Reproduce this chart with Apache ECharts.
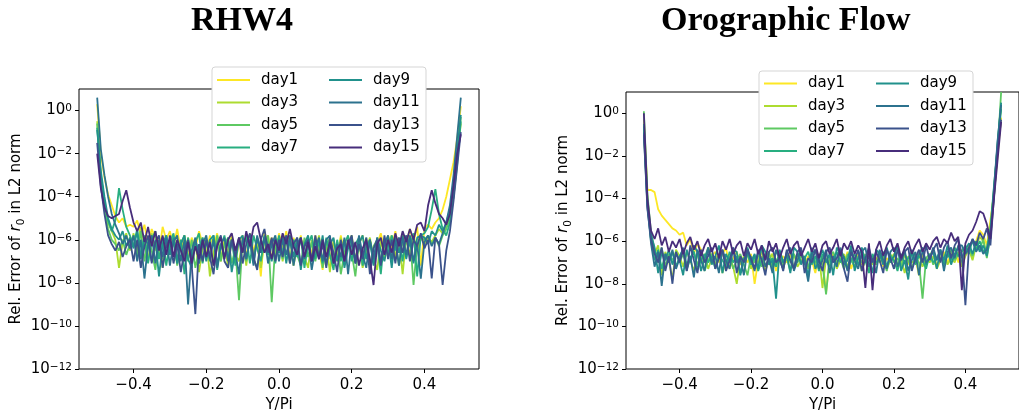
<!DOCTYPE html>
<html>
<head>
<meta charset="utf-8">
<script src="https://cdn.jsdelivr.net/npm/echarts@6.0.0/dist/echarts.min.js"></script>
<style>
  html, body { margin: 0; padding: 0; background: #fff; }
  #chart { width: 1019px; height: 418px; }
</style>
</head>
<body>
<div id="chart"></div>
<script>
// latitude grid (Y/Pi)
var yPi = [
  -0.50, -0.49, -0.48, -0.47, -0.46, -0.45, -0.44, -0.43, -0.42, -0.41,
  -0.40, -0.39, -0.38, -0.37, -0.36, -0.35, -0.34, -0.33, -0.32, -0.31,
  -0.30, -0.29, -0.28, -0.27, -0.26, -0.25, -0.24, -0.23, -0.22, -0.21,
  -0.20, -0.19, -0.18, -0.17, -0.16, -0.15, -0.14, -0.13, -0.12, -0.11,
  -0.10, -0.09, -0.08, -0.07, -0.06, -0.05, -0.04, -0.03, -0.02, -0.01,
  0.00, 0.01, 0.02, 0.03, 0.04, 0.05, 0.06, 0.07, 0.08, 0.09,
  0.10, 0.11, 0.12, 0.13, 0.14, 0.15, 0.16, 0.17, 0.18, 0.19,
  0.20, 0.21, 0.22, 0.23, 0.24, 0.25, 0.26, 0.27, 0.28, 0.29,
  0.30, 0.31, 0.32, 0.33, 0.34, 0.35, 0.36, 0.37, 0.38, 0.39,
  0.40, 0.41, 0.42, 0.43, 0.44, 0.45, 0.46, 0.47, 0.48, 0.49,
  0.50
];

var days = ["day1", "day3", "day5", "day7", "day9", "day11", "day13", "day15"];
var colors = ["#fde725", "#addc30", "#5ec962", "#28ae80", "#21918c", "#2c728e", "#3b528b", "#472d7b"];

var yTicks = [1e-12, 1e-10, 1e-8, 1e-6, 1e-4, 1e-2, 1];
var xTicks = [-0.4, -0.2, 0, 0.2, 0.4];

// log10 of the relative error
// RHW4
var rhwDay1 = [
  0.3, -2.0, -3.1, -3.9, -4.4, -4.9, -5.2, -5.0, -5.4, -5.3,
  -5.4, -5.1, -5.8, -5.3, -6.2, -5.5, -5.9, -6.6, -5.4, -6.0,
  -5.6, -6.3, -5.5, -6.5, -5.8, -6.8, -5.9, -6.4, -5.6, -6.2,
  -6.7, -5.8, -6.3, -5.7, -7.0, -6.0, -6.6, -5.8, -7.1, -6.1,
  -5.8, -6.8, -5.7, -6.5, -6.0, -7.7, -5.6, -6.3, -5.9, -6.7,
  -5.7, -6.4, -5.6, -6.9, -5.9, -6.6, -5.8, -7.0, -6.0, -6.7,
  -5.8, -6.5, -7.4, -6.0, -6.9, -6.1, -7.0, -5.8, -6.7, -6.3,
  -6.0, -6.9, -6.2, -5.8, -6.8, -6.0, -7.0, -6.2, -5.7, -6.5,
  -5.8, -6.4, -5.6, -6.6, -5.7, -6.2, -5.5, -6.1, -5.4, -7.2,
  -5.5, -5.3, -5.5, -5.2, -5.0, -4.6, -4.0, -3.2, -2.4, -1.3,
  0.2
];
var rhwDay3 = [
  -0.5, -3.0, -4.3, -5.2, -5.6, -6.0, -7.3, -6.1, -5.7, -6.5,
  -5.7, -6.6, -5.4, -6.2, -7.0, -5.7, -6.5, -5.9, -7.3, -6.0,
  -6.6, -5.8, -7.1, -6.0, -6.8, -5.9, -7.0, -6.1, -7.5, -6.4,
  -5.9, -7.7, -6.6, -5.8, -6.9, -6.1, -7.3, -5.9, -6.7, -7.0,
  -6.0, -7.2, -5.8, -6.7, -5.9, -7.3, -6.0, -5.8, -6.9, -6.2,
  -5.9, -7.0, -6.1, -5.8, -7.2, -6.3, -5.9, -6.8, -7.3, -6.0,
  -6.6, -5.8, -7.0, -6.2, -7.5, -6.0, -6.9, -5.9, -7.1, -6.2,
  -5.8, -7.0, -6.1, -7.3, -6.5, -5.9, -6.9, -7.4, -6.0, -6.9,
  -6.2, -5.8, -6.8, -6.0, -7.6, -5.9, -6.7, -5.8, -6.5, -5.9,
  -6.2, -5.9, -6.1, -5.8, -5.5, -5.7, -5.4, -4.8, -3.6, -2.2,
  -0.6
];
var rhwDay5 = [
  -0.6, -3.3, -4.6, -5.5, -6.0, -6.2, -6.5, -6.0, -6.7, -6.2,
  -5.8, -6.7, -5.6, -7.0, -5.9, -6.5, -7.4, -6.0, -6.9, -5.8,
  -6.7, -5.9, -7.2, -6.2, -5.8, -7.0, -6.0, -7.3, -6.5, -5.9,
  -6.8, -6.0, -7.2, -5.8, -7.0, -6.2, -5.9, -7.1, -6.4, -8.8,
  -6.0, -7.0, -5.8, -6.9, -7.3, -6.0, -6.6, -5.8, -8.9, -6.2,
  -5.9, -6.9, -5.8, -7.1, -6.0, -6.7, -7.2, -5.9, -6.8, -6.1,
  -7.0, -6.0, -7.3, -6.3, -5.9, -7.1, -6.1, -7.6, -6.6, -6.0,
  -6.6, -7.7, -6.1, -7.0, -5.9, -7.2, -6.3, -6.0, -7.1, -6.2,
  -5.9, -7.0, -6.1, -7.2, -6.0, -6.8, -5.8, -8.1, -6.2, -5.9,
  -6.0, -5.8, -6.2, -5.9, -6.3, -5.8, -5.5, -5.0, -4.0, -2.5,
  -0.3
];
var rhwDay7 = [
  -0.8, -3.0, -4.3, -5.1, -5.6, -5.1, -3.6, -4.6, -5.4, -5.8,
  -6.3, -5.5, -6.8, -5.8, -7.1, -6.0, -5.6, -6.9, -5.9, -7.2,
  -6.1, -5.7, -7.0, -6.0, -7.6, -5.9, -6.9, -6.1, -5.7, -7.1,
  -6.0, -7.0, -5.8, -7.4, -6.3, -5.8, -6.9, -6.0, -7.2, -5.9,
  -6.6, -5.8, -7.1, -5.8, -6.4, -7.0, -5.9, -6.7, -6.0, -7.1,
  -5.8, -6.6, -5.9, -7.0, -6.0, -6.8, -5.9, -7.3, -6.2, -5.8,
  -6.9, -6.0, -7.1, -5.9, -6.7, -7.4, -6.0, -7.0, -6.2, -5.8,
  -7.0, -6.2, -5.9, -7.2, -6.4, -6.0, -7.1, -6.2, -7.6, -5.9,
  -6.7, -5.8, -6.5, -5.9, -7.0, -5.8, -6.3, -5.7, -7.7, -5.8,
  -5.7, -5.4, -4.6, -3.65, -4.8, -5.5, -5.8, -5.2, -4.0, -2.3,
  -0.5
];
var rhwDay9 = [
  -0.9, -2.8, -4.0, -5.0, -5.5, -5.8, -6.0, -5.6, -6.3, -5.9,
  -6.4, -5.6, -6.9, -5.9, -6.2, -7.0, -6.0, -7.7, -6.2, -5.8,
  -6.7, -5.9, -7.1, -6.2, -5.8, -6.9, -7.3, -6.0, -6.6, -5.9,
  -7.0, -6.0, -5.8, -7.2, -6.2, -6.8, -5.9, -7.5, -6.5, -6.0,
  -5.8, -6.9, -6.0, -7.1, -5.9, -6.6, -5.8, -6.3, -7.0, -5.9,
  -6.6, -5.8, -7.1, -6.0, -6.8, -5.9, -7.4, -6.2, -5.8, -7.0,
  -6.0, -6.8, -5.8, -7.2, -6.2, -5.9, -7.0, -6.1, -7.3, -6.4,
  -5.9, -7.1, -6.2, -5.8, -6.9, -6.0, -7.2, -5.9, -6.5, -7.0,
  -6.0, -7.3, -5.9, -6.6, -5.8, -6.9, -6.0, -7.1, -5.9, -5.8,
  -5.9, -6.2, -5.6, -5.8, -5.3, -5.6, -5.2, -4.6, -3.4, -1.9,
  -0.2
];
var rhwDay11 = [
  0.6, -1.8, -3.0, -4.0, -4.8, -5.3, -5.7, -6.2, -5.8, -6.4,
  -5.8, -7.0, -6.0, -7.8, -6.2, -5.8, -7.1, -6.0, -6.8, -5.9,
  -7.2, -6.1, -5.8, -7.0, -6.0, -9.0, -6.5, -5.9, -7.1, -6.2,
  -5.8, -6.9, -6.0, -7.3, -6.2, -5.9, -7.0, -6.0, -6.6, -7.6,
  -5.9, -6.9, -6.0, -7.2, -5.8, -6.6, -5.9, -7.1, -6.2, -5.8,
  -7.0, -6.0, -6.7, -5.8, -7.2, -6.2, -5.9, -6.9, -6.0, -7.4,
  -6.4, -5.9, -7.0, -6.0, -5.8, -7.1, -6.2, -6.8, -5.9, -7.6,
  -6.0, -7.0, -5.8, -6.7, -7.3, -6.0, -6.9, -5.9, -7.1, -6.2,
  -5.8, -6.9, -6.0, -7.2, -5.9, -6.7, -5.8, -7.0, -6.2, -7.8,
  -6.1, -5.8, -6.3, -5.9, -6.2, -5.7, -5.2, -4.4, -3.0, -1.2,
  0.6
];
var rhwDay13 = [
  -1.5, -3.5, -4.8, -5.8, -6.2, -6.5, -6.1, -6.8, -6.3, -6.0,
  -7.0, -6.0, -7.3, -6.3, -5.8, -7.1, -6.1, -5.8, -7.3, -6.3,
  -6.0, -7.1, -6.2, -7.5, -6.5, -6.0, -7.2, -9.45, -6.2, -7.0,
  -6.0, -6.8, -7.6, -6.2, -5.8, -7.0, -7.3, -6.0, -6.8, -5.9,
  -7.1, -6.2, -5.7, -6.8, -7.4, -6.0, -5.5, -6.6, -5.9, -7.0,
  -6.0, -6.8, -5.8, -7.1, -6.2, -5.9, -7.2, -6.3, -6.0, -7.0,
  -5.8, -6.9, -6.2, -7.3, -5.9, -6.6, -7.5, -6.0, -7.0, -6.2,
  -5.8, -7.1, -6.2, -6.9, -5.9, -7.6, -6.4, -6.0, -7.2, -5.8,
  -6.9, -6.0, -7.1, -5.9, -6.6, -5.8, -7.0, -6.0, -6.3, -5.7,
  -6.4, -6.0, -7.8, -5.9, -6.2, -8.1, -6.5, -5.6, -4.2, -2.6,
  -1.0
];
var rhwDay15 = [
  -2.0, -3.6, -4.5, -4.9, -5.0, -4.9, -4.8, -4.2, -3.7, -4.5,
  -5.2, -5.6, -5.2, -6.1, -5.4, -6.3, -5.6, -6.5, -5.8, -6.7,
  -5.8, -6.8, -6.0, -6.5, -7.0, -6.1, -7.1, -6.3, -6.9, -6.0,
  -6.8, -6.1, -7.2, -6.3, -5.9, -6.9, -6.0, -5.7, -6.5, -5.9,
  -6.6, -5.6, -6.3, -5.4, -5.2, -6.0, -6.6, -6.2, -6.9, -6.0,
  -6.5, -5.7, -6.2, -5.5, -6.3, -6.7, -5.9, -6.8, -6.1, -7.0,
  -6.3, -6.9, -6.0, -6.8, -6.1, -7.1, -6.4, -6.2, -7.0, -6.0,
  -6.7, -6.1, -7.2, -6.4, -6.0, -6.9, -8.1, -6.2, -5.9, -6.7,
  -6.0, -6.6, -5.7, -6.3, -5.6, -6.1, -5.5, -6.0, -5.3, -5.2,
  -5.6, -4.4, -3.7, -4.3, -4.8, -5.0, -5.3, -4.8, -3.5, -2.0,
  -1.1
];

// Orographic Flow
var oroDay1 = [
  -0.3, -3.6, -3.6, -3.7, -4.5, -4.8, -5.0, -5.2, -5.4, -5.5,
  -5.7, -5.6, -6.2, -5.9, -6.6, -6.1, -6.4, -6.9, -6.3, -6.7,
  -6.5, -7.0, -6.6, -6.3, -7.3, -6.8, -6.5, -7.1, -6.7, -7.0,
  -6.6, -8.0, -6.9, -6.5, -7.2, -6.8, -6.6, -7.4, -6.9, -6.7,
  -7.0, -6.6, -7.3, -6.8, -6.5, -7.1, -6.7, -6.9, -7.5, -6.6,
  -6.8, -8.4, -6.9, -6.6, -7.2, -6.7, -7.0, -6.5, -7.3, -6.8,
  -6.6, -7.1, -6.8, -7.4, -6.7, -6.9, -6.5, -7.2, -6.8, -7.0,
  -6.6, -7.3, -6.9, -6.7, -7.1, -6.5, -6.8, -7.6, -6.6, -7.0,
  -6.7, -6.4, -7.2, -6.8, -6.5, -7.0, -6.6, -6.3, -7.0, -6.4,
  -6.6, -6.2, -6.8, -6.0, -5.5, -5.7, -6.2, -5.0, -3.8, -2.0,
  -0.2
];
var oroDay3 = [
  -0.8, -4.0, -5.8, -6.6, -6.2, -7.6, -6.5, -6.9, -7.8, -6.4,
  -6.7, -7.2, -6.5, -6.9, -7.4, -6.6, -7.0, -6.7, -7.3, -6.8,
  -7.1, -6.6, -7.5, -6.9, -6.7, -7.2, -8.0, -6.8, -7.0, -6.6,
  -7.3, -6.8, -7.0, -6.7, -7.4, -6.9, -6.6, -7.1, -6.8, -7.3,
  -6.7, -7.0, -6.6, -7.2, -6.9, -6.7, -7.3, -6.8, -7.1, -6.6,
  -8.2, -6.8, -7.0, -6.7, -7.3, -6.9, -6.6, -7.2, -6.8, -7.0,
  -6.7, -7.4, -6.9, -6.6, -7.1, -6.8, -7.0, -6.7, -7.3, -6.9,
  -6.6, -7.1, -6.8, -7.5, -6.7, -7.0, -6.9, -6.6, -7.2, -6.8,
  -7.0, -6.7, -7.3, -6.9, -6.6, -7.1, -6.8, -7.0, -6.5, -7.2,
  -6.7, -6.4, -6.9, -6.2, -5.8, -6.0, -6.6, -5.3, -3.6, -1.5,
  0.4
];
var oroDay5 = [
  0.1, -3.8, -5.6, -6.4, -7.0, -6.3, -7.2, -6.6, -6.9, -6.5,
  -7.0, -6.6, -7.3, -6.8, -6.5, -7.1, -6.7, -7.4, -6.9, -6.6,
  -7.2, -6.8, -6.5, -7.0, -6.7, -7.3, -6.9, -6.6, -7.1, -7.6,
  -6.7, -7.0, -6.6, -7.2, -6.8, -6.5, -7.3, -6.9, -6.7, -7.1,
  -6.8, -7.4, -6.6, -7.0, -6.7, -6.9, -7.2, -6.6, -7.0, -6.8,
  -7.1, -8.5, -6.7, -6.5, -7.0, -6.8, -7.3, -6.6, -6.9, -7.2,
  -6.7, -7.0, -6.6, -7.3, -6.8, -7.1, -6.7, -6.9, -7.4, -6.6,
  -7.0, -6.8, -7.2, -6.6, -6.9, -7.3, -6.7, -7.0, -8.7, -6.8,
  -6.6, -7.1, -6.8, -6.5, -7.0, -6.7, -6.4, -6.9, -6.6, -7.0,
  -6.5, -6.3, -6.7, -6.1, -6.4, -5.9, -6.8, -5.6, -3.9, -1.8,
  1.0
];
var oroDay7 = [
  -0.5, -4.2, -6.0, -6.9, -6.4, -7.3, -6.6, -7.0, -6.5, -7.2,
  -6.7, -6.4, -7.1, -6.8, -6.5, -7.3, -6.9, -6.6, -7.0, -6.7,
  -7.3, -6.6, -6.9, -7.2, -6.5, -7.0, -6.7, -7.5, -6.8, -6.6,
  -7.1, -6.7, -7.4, -6.9, -6.6, -7.0, -6.8, -7.2, -6.5, -7.0,
  -6.7, -6.9, -7.3, -6.6, -7.0, -6.8, -6.5, -7.1, -6.7, -7.4,
  -6.6, -6.9, -7.2, -6.8, -6.5, -7.0, -6.7, -7.3, -6.9, -6.6,
  -7.1, -6.7, -6.9, -7.5, -6.6, -7.0, -6.8, -6.5, -7.2, -6.7,
  -6.9, -7.4, -6.6, -7.0, -6.8, -6.5, -7.1, -6.7, -6.9, -7.3,
  -6.6, -7.0, -6.8, -6.4, -7.1, -6.6, -6.9, -6.3, -6.7, -6.5,
  -6.2, -6.6, -5.9, -6.4, -6.0, -6.5, -6.3, -5.4, -3.4, -1.6,
  0.2
];
var oroDay9 = [
  -0.6, -4.3, -5.7, -6.3, -7.5, -6.5, -6.9, -6.4, -7.1, -6.6,
  -6.9, -7.6, -6.4, -7.0, -6.2, -6.5, -7.4, -6.8, -6.3, -7.1,
  -6.7, -6.2, -7.5, -6.6, -7.0, -6.4, -6.5, -7.6, -6.9, -6.3,
  -7.0, -6.6, -7.3, -6.2, -6.5, -7.1, -6.9, -8.7, -6.4, -7.0,
  -6.6, -7.5, -6.3, -6.5, -7.1, -6.7, -7.7, -6.3, -7.3, -6.9,
  -6.4, -7.0, -6.6, -7.6, -6.3, -6.6, -7.1, -6.9, -6.2, -7.4,
  -6.8, -6.3, -7.0, -6.7, -7.5, -6.4, -6.6, -7.1, -6.3, -7.0,
  -6.7, -6.2, -7.4, -6.9, -7.8, -6.4, -7.0, -6.6, -6.3, -7.1,
  -6.7, -6.5, -7.3, -6.4, -6.9, -6.2, -7.1, -6.6, -6.3, -6.8,
  -6.4, -6.1, -6.6, -6.0, -6.5, -6.2, -6.7, -5.8, -3.7, -1.4,
  0.5
];
var oroDay11 = [
  -0.9, -4.4, -6.1, -7.2, -6.5, -8.1, -6.6, -7.0, -6.4, -7.3,
  -6.8, -6.3, -7.4, -6.7, -7.7, -6.4, -6.9, -7.4, -6.3, -7.0,
  -6.7, -7.5, -6.4, -6.9, -7.3, -6.3, -7.0, -6.8, -7.6, -6.4,
  -6.9, -7.4, -6.5, -6.3, -7.2, -6.8, -7.5, -6.4, -6.9, -7.3,
  -6.5, -6.3, -7.4, -6.9, -6.4, -7.0, -7.9, -6.6, -6.4, -7.3,
  -6.9, -6.4, -7.5, -6.7, -7.2, -6.3, -6.8, -7.4, -6.4, -6.9,
  -7.3, -6.5, -6.3, -7.2, -6.8, -7.5, -6.4, -6.9, -7.3, -6.5,
  -6.3, -7.2, -6.8, -6.4, -7.4, -6.9, -6.5, -7.6, -6.4, -7.0,
  -6.8, -6.3, -6.9, -6.4, -7.4, -6.5, -6.3, -6.8, -6.2, -6.2,
  -6.6, -6.3, -6.0, -6.5, -6.2, -6.6, -6.4, -5.7, -3.5, -1.3,
  0.4
];
var oroDay13 = [
  -1.0, -4.5, -5.9, -6.6, -7.0, -6.3, -7.4, -6.7, -8.0, -6.5,
  -7.0, -6.4, -7.4, -6.2, -6.9, -7.5, -6.4, -7.0, -6.7, -6.3,
  -7.3, -6.8, -6.4, -7.4, -6.9, -6.3, -7.5, -6.7, -7.0, -6.4,
  -6.8, -7.3, -6.4, -6.9, -7.6, -6.5, -6.3, -7.0, -6.8, -7.4,
  -6.4, -6.9, -7.3, -6.5, -6.3, -7.5, -6.8, -7.0, -6.4, -6.9,
  -7.4, -6.5, -6.3, -7.0, -6.8, -6.4, -7.3, -7.9, -6.5, -6.9,
  -6.4, -7.4, -6.8, -6.3, -7.0, -6.5, -6.9, -7.5, -6.4, -6.8,
  -7.3, -6.4, -6.9, -6.5, -6.3, -7.4, -6.8, -6.4, -7.0, -6.2,
  -6.9, -6.4, -6.1, -7.0, -6.3, -6.0, -6.8, -6.2, -5.9, -6.6,
  -9.0, -6.3, -5.9, -6.2, -5.6, -5.9, -5.4, -6.2, -3.9, -1.7,
  -0.3
];
var oroDay15 = [
  0.0, -4.0, -5.5, -5.9, -5.4, -6.2, -5.8, -6.5, -6.0, -6.3,
  -5.9, -6.6, -6.1, -5.8, -6.4, -6.0, -6.7, -6.2, -5.9, -6.5,
  -6.1, -6.8, -6.0, -6.4, -5.9, -6.6, -6.2, -6.0, -6.7, -6.1,
  -6.4, -5.9, -6.6, -6.2, -6.9, -6.0, -6.5, -6.1, -6.8, -6.3,
  -5.9, -6.6, -6.2, -6.0, -6.7, -6.3, -5.9, -6.5, -6.1, -6.8,
  -6.2, -6.0, -6.6, -6.3, -5.9, -6.7, -6.1, -6.4, -6.0, -6.6,
  -6.2, -6.5, -8.2, -6.1, -8.3, -6.4, -6.0, -6.7, -6.2, -5.9,
  -6.5, -6.1, -6.8, -6.3, -6.0, -6.6, -6.2, -5.9, -6.5, -6.1,
  -6.4, -6.0, -5.8, -6.3, -5.9, -6.1, -5.6, -6.0, -5.8, -8.3,
  -6.1, -5.7, -5.5, -5.1, -4.6, -4.7, -5.2, -5.9, -4.0, -2.2,
  -0.4
];

var rhwSeries = [rhwDay1, rhwDay3, rhwDay5, rhwDay7, rhwDay9, rhwDay11, rhwDay13, rhwDay15];
var oroSeries = [oroDay1, oroDay3, oroDay5, oroDay7, oroDay9, oroDay11, oroDay13, oroDay15];

var FONT = "DejaVu Sans";

function yLabel(v) {
    var e = Math.round(Math.log(v) / Math.LN10);
    return "{b|10}{s|" + (e < 0 ? "\u2212" + (-e) : e) + "}";
}

function xLabel(v) {
    var s = Math.abs(v).toFixed(1);
    return v < -1e-9 ? "\u2212" + s : s;
}

function makeXAxis(gridIndex) {
    return {
        type: "value",
        gridIndex: gridIndex,
        min: -0.55,
        max: 0.55,
        name: "Y/Pi",
        nameLocation: "middle",
        nameGap: 29,
        nameTextStyle: { fontFamily: FONT, fontSize: 15, color: "#000" },
        axisLine: { show: false, onZero: false },
        axisTick: { show: true, length: 4, customValues: xTicks, lineStyle: { color: "#000", width: 1 } },
        axisLabel: { customValues: xTicks, formatter: xLabel, margin: 9,
            fontFamily: FONT, fontSize: 15, color: "#000" },
        splitLine: { show: false }
    };
}

function makeYAxis(gridIndex) {
    return {
        type: "log",
        logBase: 10,
        gridIndex: gridIndex,
        min: 1e-12,
        max: 10,
        name: "{n|Rel. Error of }{i|r}{sub|0}{n| in L2 norm}",
        nameLocation: "middle",
        nameRotate: 90,
        nameGap: 52,
        nameTextStyle: {
            color: "#000",
            rich: {
                n: { fontFamily: FONT, fontSize: 15, lineHeight: 18, verticalAlign: "top", color: "#000" },
                i: { fontFamily: FONT, fontSize: 15, fontStyle: "italic", lineHeight: 18, verticalAlign: "top", color: "#000" },
                sub: { fontFamily: FONT, fontSize: 10.5, lineHeight: 11, verticalAlign: "bottom", color: "#000" }
            }
        },
        axisLine: { show: false, onZero: false },
        axisTick: { show: true, length: 4, customValues: yTicks, lineStyle: { color: "#000", width: 1 } },
        axisLabel: {
            customValues: yTicks,
            formatter: yLabel,
            margin: 7,
            rich: {
                b: { fontFamily: FONT, fontSize: 15, lineHeight: 15, verticalAlign: "bottom", color: "#000" },
                s: { fontFamily: FONT, fontSize: 10.5, lineHeight: 10, verticalAlign: "top", color: "#000" }
            }
        },
        splitLine: { show: false }
    };
}

function makeSeries(list, idx) {
    return list.map(function(vals, k) {
        return {
            name: days[k],
            type: "line",
            xAxisIndex: idx,
            yAxisIndex: idx,
            symbol: "none",
            showSymbol: false,
            color: colors[k],
            lineStyle: { width: 1.8, color: colors[k] },
            data: vals.map(function(e, i) {
                return [yPi[i], Math.pow(10, e)];
            })
        };
    });
}

function makeLegend(names, left, top) {
    return {
        data: names,
        orient: "vertical",
        left: left,
        top: top,
        padding: 0,
        icon: "rect",
        itemWidth: 33,
        itemHeight: 2,
        itemGap: 7.5,
        selectedMode: false,
        textStyle: { fontFamily: FONT, fontSize: 15, lineHeight: 15, color: "#000", padding: [0, 0, 0, 6] }
    };
}

var myChart = echarts.init(document.getElementById("chart"), null, { renderer: "canvas" });

var option = {
    animation: false,
    backgroundColor: "#fff",
    title: [
        { text: "RHW4", left: 191, top: 4, padding: 0,
          textStyle: { fontFamily: "Liberation Serif", fontWeight: "bold", fontSize: 34, color: "#000" } },
        { text: "Orographic Flow", left: 661, top: 4, padding: 0,
          textStyle: { fontFamily: "Liberation Serif", fontWeight: "bold", fontSize: 34, color: "#000" } }
    ],
    grid: [
        { left: 79, top: 89, width: 400, height: 283, show: true, borderColor: "#000", borderWidth: 1, backgroundColor: "transparent" },
        { left: 626, top: 92, width: 402, height: 283, show: true, borderColor: "#000", borderWidth: 1, backgroundColor: "transparent" }
    ],
    xAxis: [makeXAxis(0), makeXAxis(1)],
    yAxis: [makeYAxis(0), makeYAxis(1)],
    legend: [
        makeLegend(days.slice(0, 4), 217, 72.5),
        makeLegend(days.slice(4), 329, 72.5),
        makeLegend(days.slice(0, 4), 764, 76),
        makeLegend(days.slice(4), 876, 76)
    ],
    graphic: [
        { type: "rect", z: 3, shape: { x: 212, y: 67, width: 214, height: 95, r: 3 },
          style: { fill: "#fff", stroke: "#d5d5d5", lineWidth: 1 } },
        { type: "rect", z: 3, shape: { x: 759, y: 71, width: 214, height: 94, r: 3 },
          style: { fill: "#fff", stroke: "#d5d5d5", lineWidth: 1 } }
    ],
    series: makeSeries(rhwSeries, 0).concat(makeSeries(oroSeries, 1))
};

myChart.setOption(option);
</script>
</body>
</html>
